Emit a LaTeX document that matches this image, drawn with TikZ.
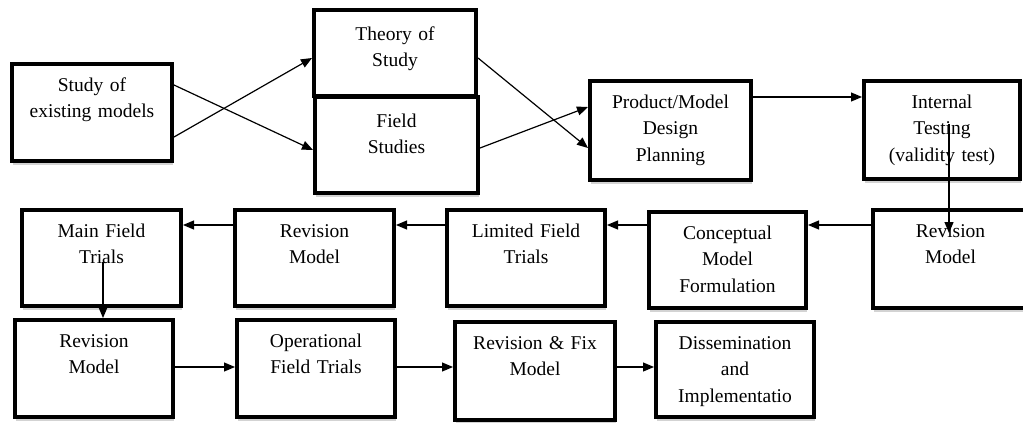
\documentclass[tikz,border=0pt]{standalone}
\usepackage{fontspec}
\setmainfont{Liberation Serif}
\usetikzlibrary{arrows.meta,shadows}
\newcommand{\bigtxt}{\fontsize{19.5}{26.5}\selectfont}

\begin{document}
\begin{tikzpicture}[x=1pt,y=-1pt,
   blk/.style={draw,fill=white,line width=4pt,inner sep=0pt,align=center,
     font=\bigtxt,text height=27pt,
     drop shadow={shadow xshift=1pt,shadow yshift=-3.5pt,opacity=.35}},
   arr/.style={-{Triangle[length=11pt,width=9pt]},line width=1.2pt}]
   \clip (0,0) rectangle (1023,423);
   \node[blk,text width=160pt,text depth=70pt] (exist) at (92,112.5) {Study of\\existing models};
   \node[blk,text width=162pt,text height=30pt,text depth=56pt] (theory) at (395,53) {Theory of\\Study};
   \node[blk,text width=163pt,text height=30pt,text depth=66pt] (field) at (396.5,145) {Field\\Studies};
   \node[blk,text width=161pt,text depth=72pt] (design) at (670.5,130.5) {Product/Model\\Design\\Planning};
   \node[blk,text width=156pt,text depth=71pt] (test) at (942,130) {Internal\\Testing\\(validity test)};
   \node[blk,text width=155pt,text depth=71pt] (rev0) at (950.5,259) {Revision\\Model};
   \node[blk,text width=157pt,text depth=69pt] (concept) at (727.5,260) {Conceptual\\Model\\Formulation};
   \node[blk,text width=158pt,text depth=69pt] (limited) at (526,258) {Limited Field\\Trials};
   \node[blk,text width=159pt,text depth=69pt] (rev1) at (314.5,258) {Revision\\Model};
   \node[blk,text width=159pt,text depth=69pt] (mainfield) at (101.5,258) {Main Field\\Trials};
   \node[blk,text width=158pt,text depth=70pt] (rev2) at (94,368.5) {Revision\\Model};
   \node[blk,text width=158pt,text depth=70pt] (oper) at (316,368.5) {Operational\\Field Trials};
   \node[blk,text width=160pt,text depth=71pt] (fix) at (535,371) {Revision \& Fix\\Model};
   \node[blk,text width=158pt,text depth=68pt] (dissem) at (735,369.5) {Dissemination\\and\\Implementatio};

   \draw[arr] ([yshift=-24.5pt]exist.east) -- ([yshift=-5pt]theory.west);
   \draw[arr] ([yshift=27.5pt]exist.east) -- ([yshift=-5pt]field.west);
   \draw[arr] ([yshift=-5pt]theory.east) -- ([yshift=-17.5pt]design.west);
   \draw[arr] ([yshift=-3pt]field.east) -- ([yshift=23.5pt]design.west);
   \draw[arr] ([yshift=33.5pt]design.east) -- ([yshift=33pt]test.west);
   \draw[arr] ([xshift=7pt,yshift=6pt]test.center) -- ([xshift=-1.5pt,yshift=26pt]rev0.center);
   \draw[arr] ([yshift=34pt]rev0.west) -- ([yshift=35pt]concept.east);
   \draw[arr] ([yshift=35pt]concept.west) -- ([yshift=33pt]limited.east);
   \draw[arr] ([yshift=33pt]limited.west) -- ([yshift=33pt]rev1.east);
   \draw[arr] ([yshift=33pt]rev1.west) -- ([yshift=33pt]mainfield.east);
   \draw[arr] ([xshift=1.5pt,yshift=-4pt]mainfield.center) -- ([xshift=9pt]rev2.north);
   \draw[arr] ([yshift=1.5pt]rev2.east) -- ([yshift=1.5pt]oper.west);
   \draw[arr] ([yshift=1.5pt]oper.east) -- ([yshift=4pt]fix.west);
   \draw[arr] ([yshift=4pt]fix.east) -- ([yshift=2.5pt]dissem.west);
\end{tikzpicture}
\end{document}
